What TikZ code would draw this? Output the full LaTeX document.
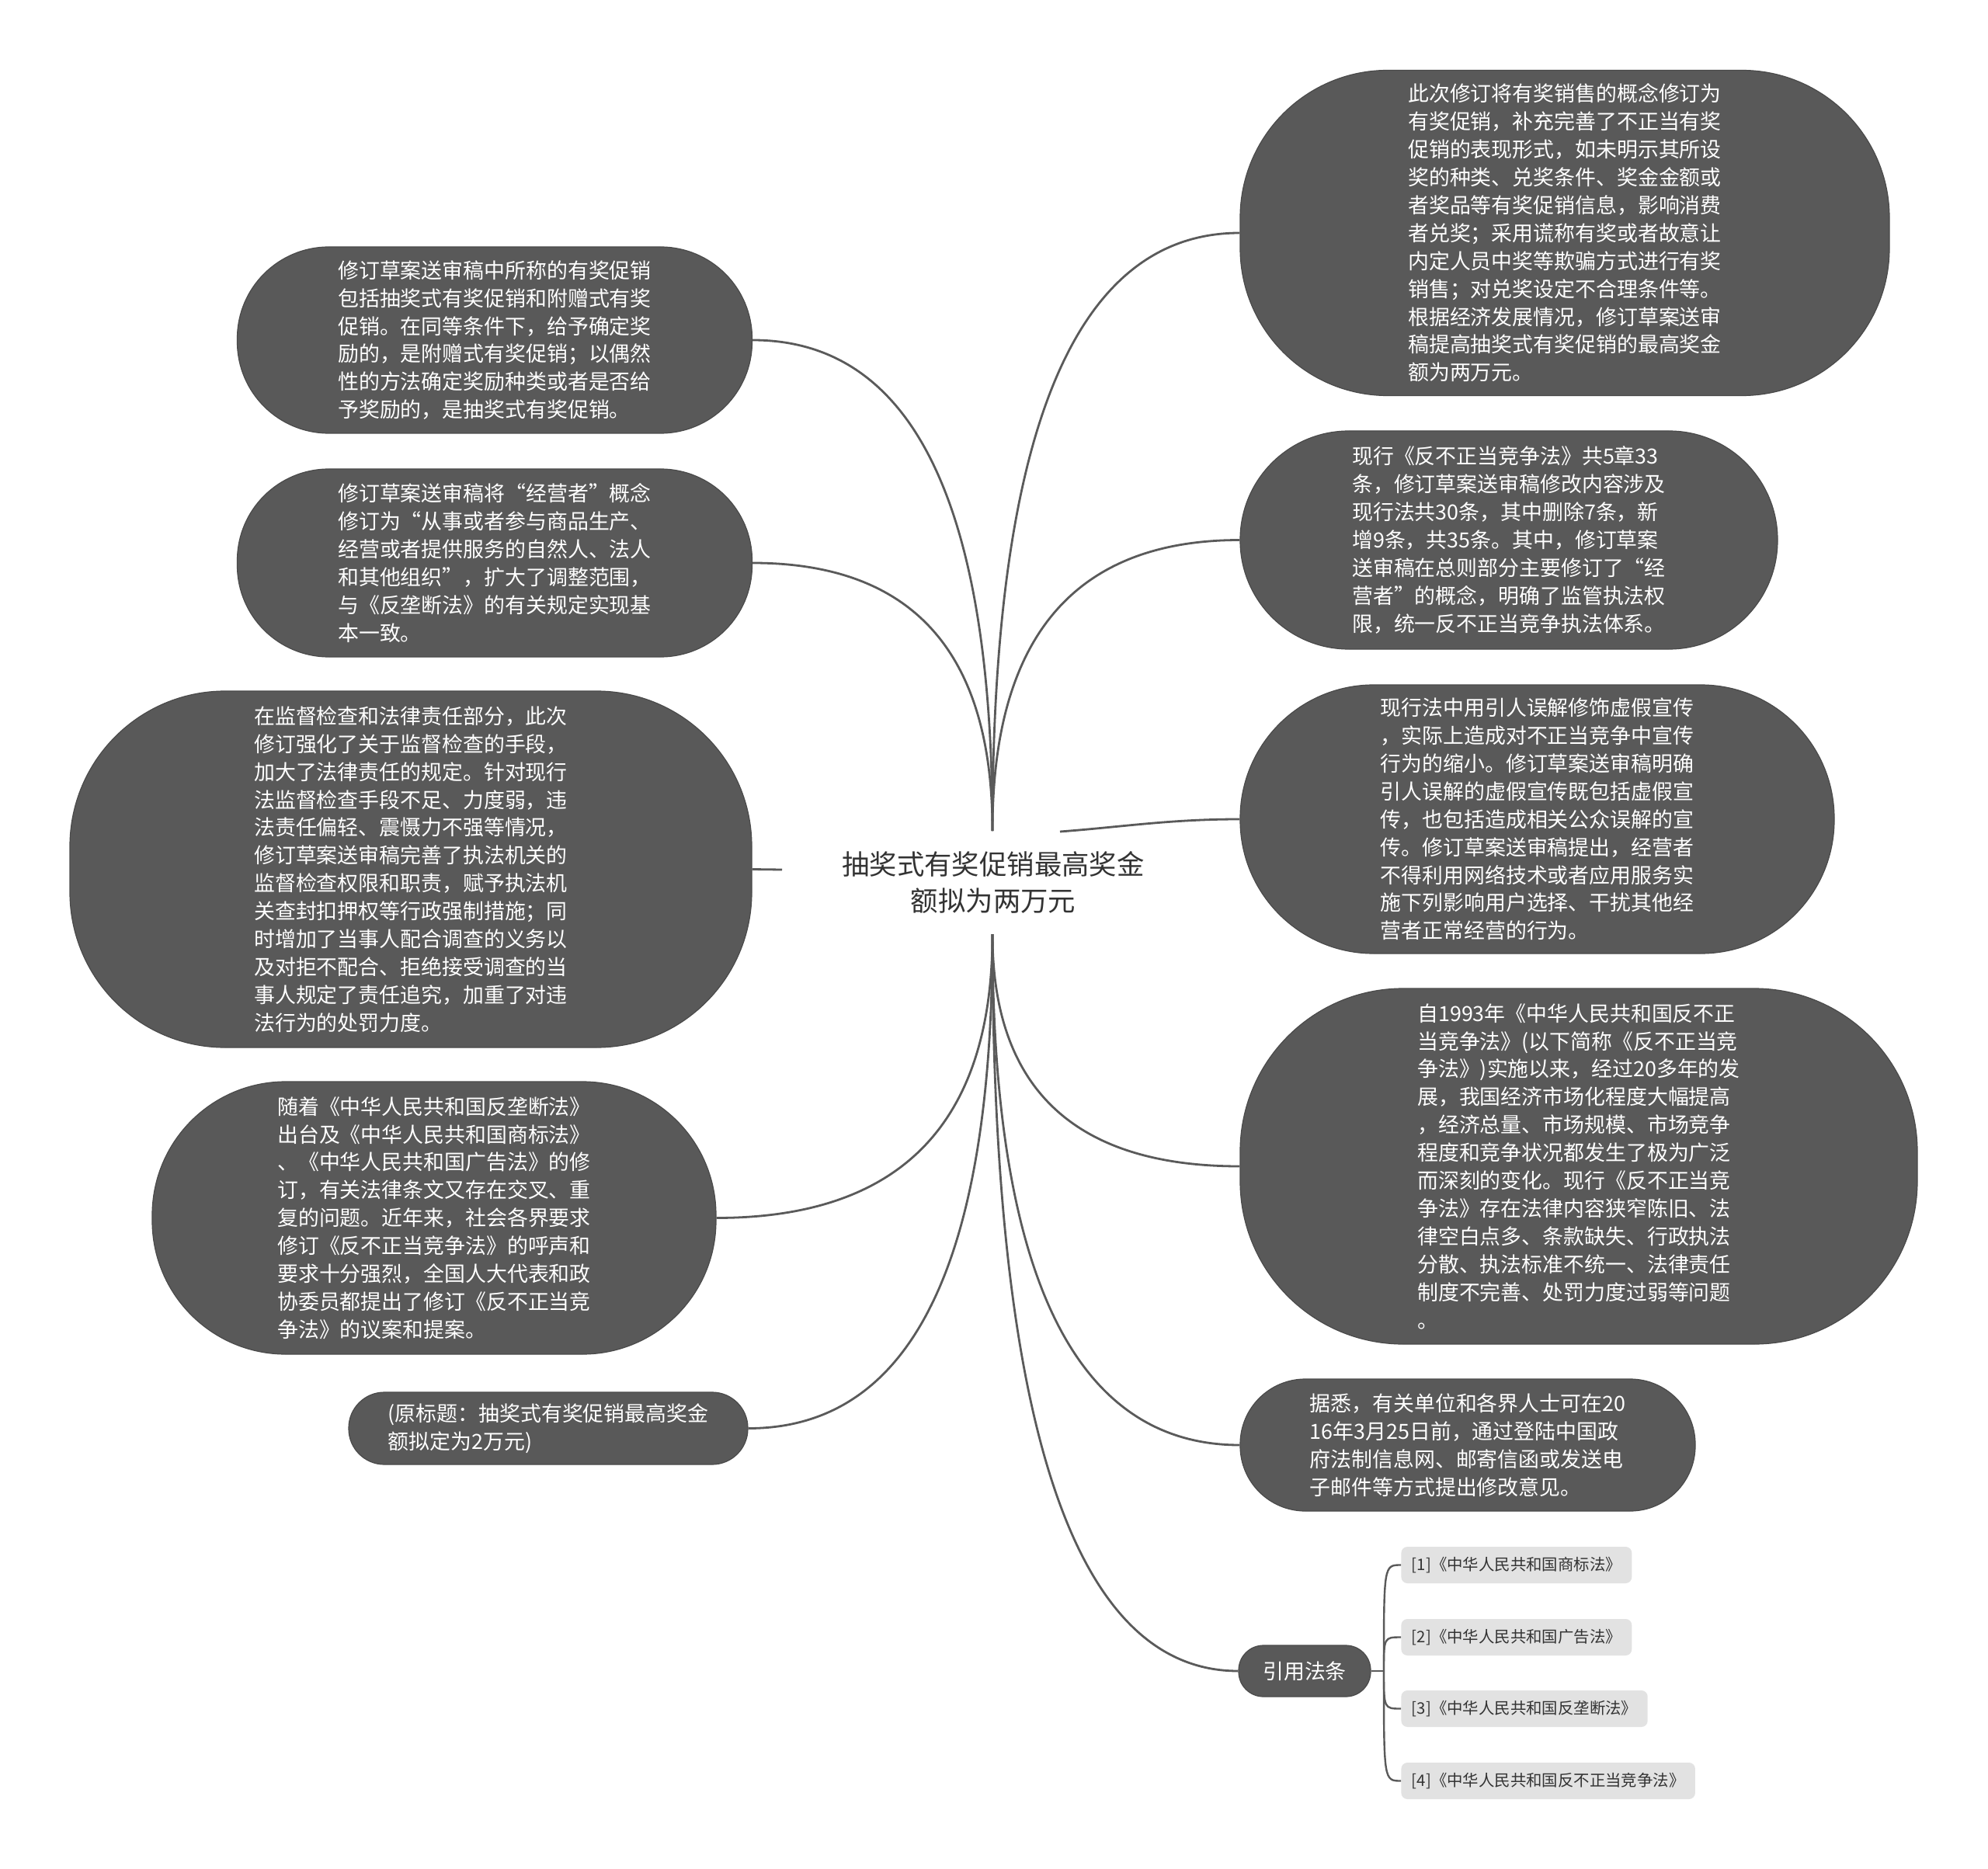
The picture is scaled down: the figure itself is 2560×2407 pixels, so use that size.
\documentclass[tikz,border=0pt]{standalone}
\usepackage{fontspec}
\setmainfont{Noto Sans CJK SC}
\usetikzlibrary{calc}
\definecolor{pillgray}{HTML}{595959}
\definecolor{pillline}{HTML}{4A4A4A}
\definecolor{linkgray}{HTML}{5A5A5A}
\definecolor{refgray}{HTML}{E2E2E2}
\definecolor{titlegray}{HTML}{333333}
\tikzset{
  pill/.style={fill=pillgray, draw=pillline, line width=0.6pt, text=white, align=left,
    inner sep=0pt, font=\fontsize{13.45}{17.95}\selectfont},
  reftag/.style={fill=refgray, rounded corners=4pt, text=titlegray, anchor=west,
    inner xsep=6.75pt, inner ysep=0pt, minimum height=23.5pt, align=left,
    font=\fontsize{10.2}{12}\selectfont},
  link/.style={draw=linkgray, line width=1.4pt},
}
% quadratic-like branch from #1 to #2 (corner at (#1 |- #2))
\newcommand{\branch}[2]{%
  \draw[link] (#1) .. controls ($(#1)!0.667!(#1 |- #2)$) and ($(#2)!0.667!(#1 |- #2)$) .. (#2);}
\begin{document}
\begin{tikzpicture}[x=0.5pt,y=-0.5pt]
\useasboundingbox (0,0) rectangle (2560,2407);
\fill[white] (0,0) rectangle (2560,2407);

% central topic
\node[font=\fontsize{17.7}{23.5}\selectfont, text=titlegray, align=center, inner sep=0pt]
  (c) at (1279,1136) {抽奖式有奖促销最高奖金\\额拟为两万元};
\coordinate (ctop) at (1278,1070);
\coordinate (cbot) at (1278,1203);
\coordinate (cl) at (1007,1120);
\coordinate (cr) at (1365,1071);

% left nodes
\node[pill, minimum width=331.5pt, minimum height=120pt, rounded corners=59pt] (l1) at (637,438) {修订草案送审稿中所称的有奖促销\\包括抽奖式有奖促销和附赠式有奖\\促销。在同等条件下，给予确定奖\\励的，是附赠式有奖促销；以偶然\\性的方法确定奖励种类或者是否给\\予奖励的，是抽奖式有奖促销。};

\node[pill, minimum width=331.5pt, minimum height=121pt, rounded corners=59pt] (l2) at (637,725) {修订草案送审稿将“经营者”概念\\修订为“从事或者参与商品生产、\\经营或者提供服务的自然人、法人\\和其他组织”，扩大了调整范围，\\与《反垄断法》的有关规定实现基\\本一致。};

\node[pill, minimum width=439pt, minimum height=229.5pt, rounded corners=100pt] (l3) at (529,1119.5) {在监督检查和法律责任部分，此次\\修订强化了关于监督检查的手段，\\加大了法律责任的规定。针对现行\\法监督检查手段不足、力度弱，违\\法责任偏轻、震慑力不强等情况，\\修订草案送审稿完善了执法机关的\\监督检查权限和职责，赋予执法机\\关查封扣押权等行政强制措施；同\\时增加了当事人配合调查的义务以\\及对拒不配合、拒绝接受调查的当\\事人规定了责任追究，加重了对违\\法行为的处罚力度。};

\node[pill, minimum width=363pt, minimum height=175.5pt, rounded corners=86pt] (l4) at (559,1568.5) {随着《中华人民共和国反垄断法》\\出台及《中华人民共和国商标法》\\、《中华人民共和国广告法》的修\\订，有关法律条文又存在交叉、重\\复的问题。近年来，社会各界要求\\修订《反不正当竞争法》的呼声和\\要求十分强烈，全国人大代表和政\\协委员都提出了修订《反不正当竞\\争法》的议案和提案。};

\node[pill, minimum width=257pt, minimum height=46.5pt, rounded corners=23pt] (l5) at (706,1839.5) {(原标题：抽奖式有奖促销最高奖金\\额拟定为2万元)};

% right nodes
\node[pill, minimum width=418pt, minimum height=209.5pt, rounded corners=95pt] (r1) at (2015,300) {此次修订将有奖销售的概念修订为\\有奖促销，补充完善了不正当有奖\\促销的表现形式，如未明示其所设\\奖的种类、兑奖条件、奖金金额或\\者奖品等有奖促销信息，影响消费\\者兑奖；采用谎称有奖或者故意让\\内定人员中奖等欺骗方式进行有奖\\销售；对兑奖设定不合理条件等。\\根据经济发展情况，修订草案送审\\稿提高抽奖式有奖促销的最高奖金\\额为两万元。};

\node[pill, minimum width=346pt, minimum height=140.5pt, rounded corners=70pt] (r2) at (1943,695.5) {现行《反不正当竞争法》共5章33\\条，修订草案送审稿修改内容涉及\\现行法共30条，其中删除7条，新\\增9条，共35条。其中，修订草案\\送审稿在总则部分主要修订了“经\\营者”的概念，明确了监管执法权\\限，统一反不正当竞争执法体系。};

\node[pill, minimum width=382.5pt, minimum height=173pt, rounded corners=86pt] (r3) at (1979.5,1055) {现行法中用引人误解修饰虚假宣传\\，实际上造成对不正当竞争中宣传\\行为的缩小。修订草案送审稿明确\\引人误解的虚假宣传既包括虚假宣\\传，也包括造成相关公众误解的宣\\传。修订草案送审稿提出，经营者\\不得利用网络技术或者应用服务实\\施下列影响用户选择、干扰其他经\\营者正常经营的行为。};

\node[pill, minimum width=436pt, minimum height=229pt, rounded corners=105pt] (r4) at (2033,1502) {自1993年《中华人民共和国反不正\\当竞争法》(以下简称《反不正当竞\\争法》)实施以来，经过20多年的发\\展，我国经济市场化程度大幅提高\\，经济总量、市场规模、市场竞争\\程度和竞争状况都发生了极为广泛\\而深刻的变化。现行《反不正当竞\\争法》存在法律内容狭窄陈旧、法\\律空白点多、条款缺失、行政执法\\分散、执法标准不统一、法律责任\\制度不完善、处罚力度过弱等问题\\。};

\node[pill, minimum width=293pt, minimum height=85pt, rounded corners=42pt] (r5) at (1890,1861) {据悉，有关单位和各界人士可在20\\16年3月25日前，通过登陆中国政\\府法制信息网、邮寄信函或发送电\\子邮件等方式提出修改意见。};

\node[pill, align=center, minimum width=85pt, minimum height=33pt, rounded corners=16pt] (rt) at (1680,2152) {引用法条};

% references
\node[reftag] (f1) at (1804,2015.5) {[1]《中华人民共和国商标法》};
\node[reftag] (f2) at (1804,2108.5) {[2]《中华人民共和国广告法》};
\node[reftag] (f3) at (1804,2200.5) {[3]《中华人民共和国反垄断法》};
\node[reftag] (f4) at (1804,2293.5) {[4]《中华人民共和国反不正当竞争法》};

% connectors (top)
\branch{ctop}{r1.west}
\branch{ctop}{l1.east}
\branch{ctop}{l2.east}
\branch{ctop}{r2.west}
% side connectors
\draw[link] (cl) -- (l3.east);
\draw[link] (cr) .. controls +(80,-6) and +(-90,0) .. (r3.west);
% connectors (bottom)
\branch{cbot}{l4.east}
\branch{cbot}{l5.east}
\branch{cbot}{r4.west}
\branch{cbot}{r5.west}
\branch{cbot}{rt.west}

% reference bracket
\coordinate (rj) at (1782,2152);
\draw[link, line width=1.2pt] (rt.east) -- (rj);
\draw[link, line width=1.2pt] (rj) .. controls (rj |- f1.west) and (rj |- f1.west) .. (f1.west);
\draw[link, line width=1.2pt] (rj) .. controls (rj |- f2.west) and (rj |- f2.west) .. (f2.west);
\draw[link, line width=1.2pt] (rj) .. controls (rj |- f3.west) and (rj |- f3.west) .. (f3.west);
\draw[link, line width=1.2pt] (rj) .. controls (rj |- f4.west) and (rj |- f4.west) .. (f4.west);
\end{tikzpicture}
\end{document}
